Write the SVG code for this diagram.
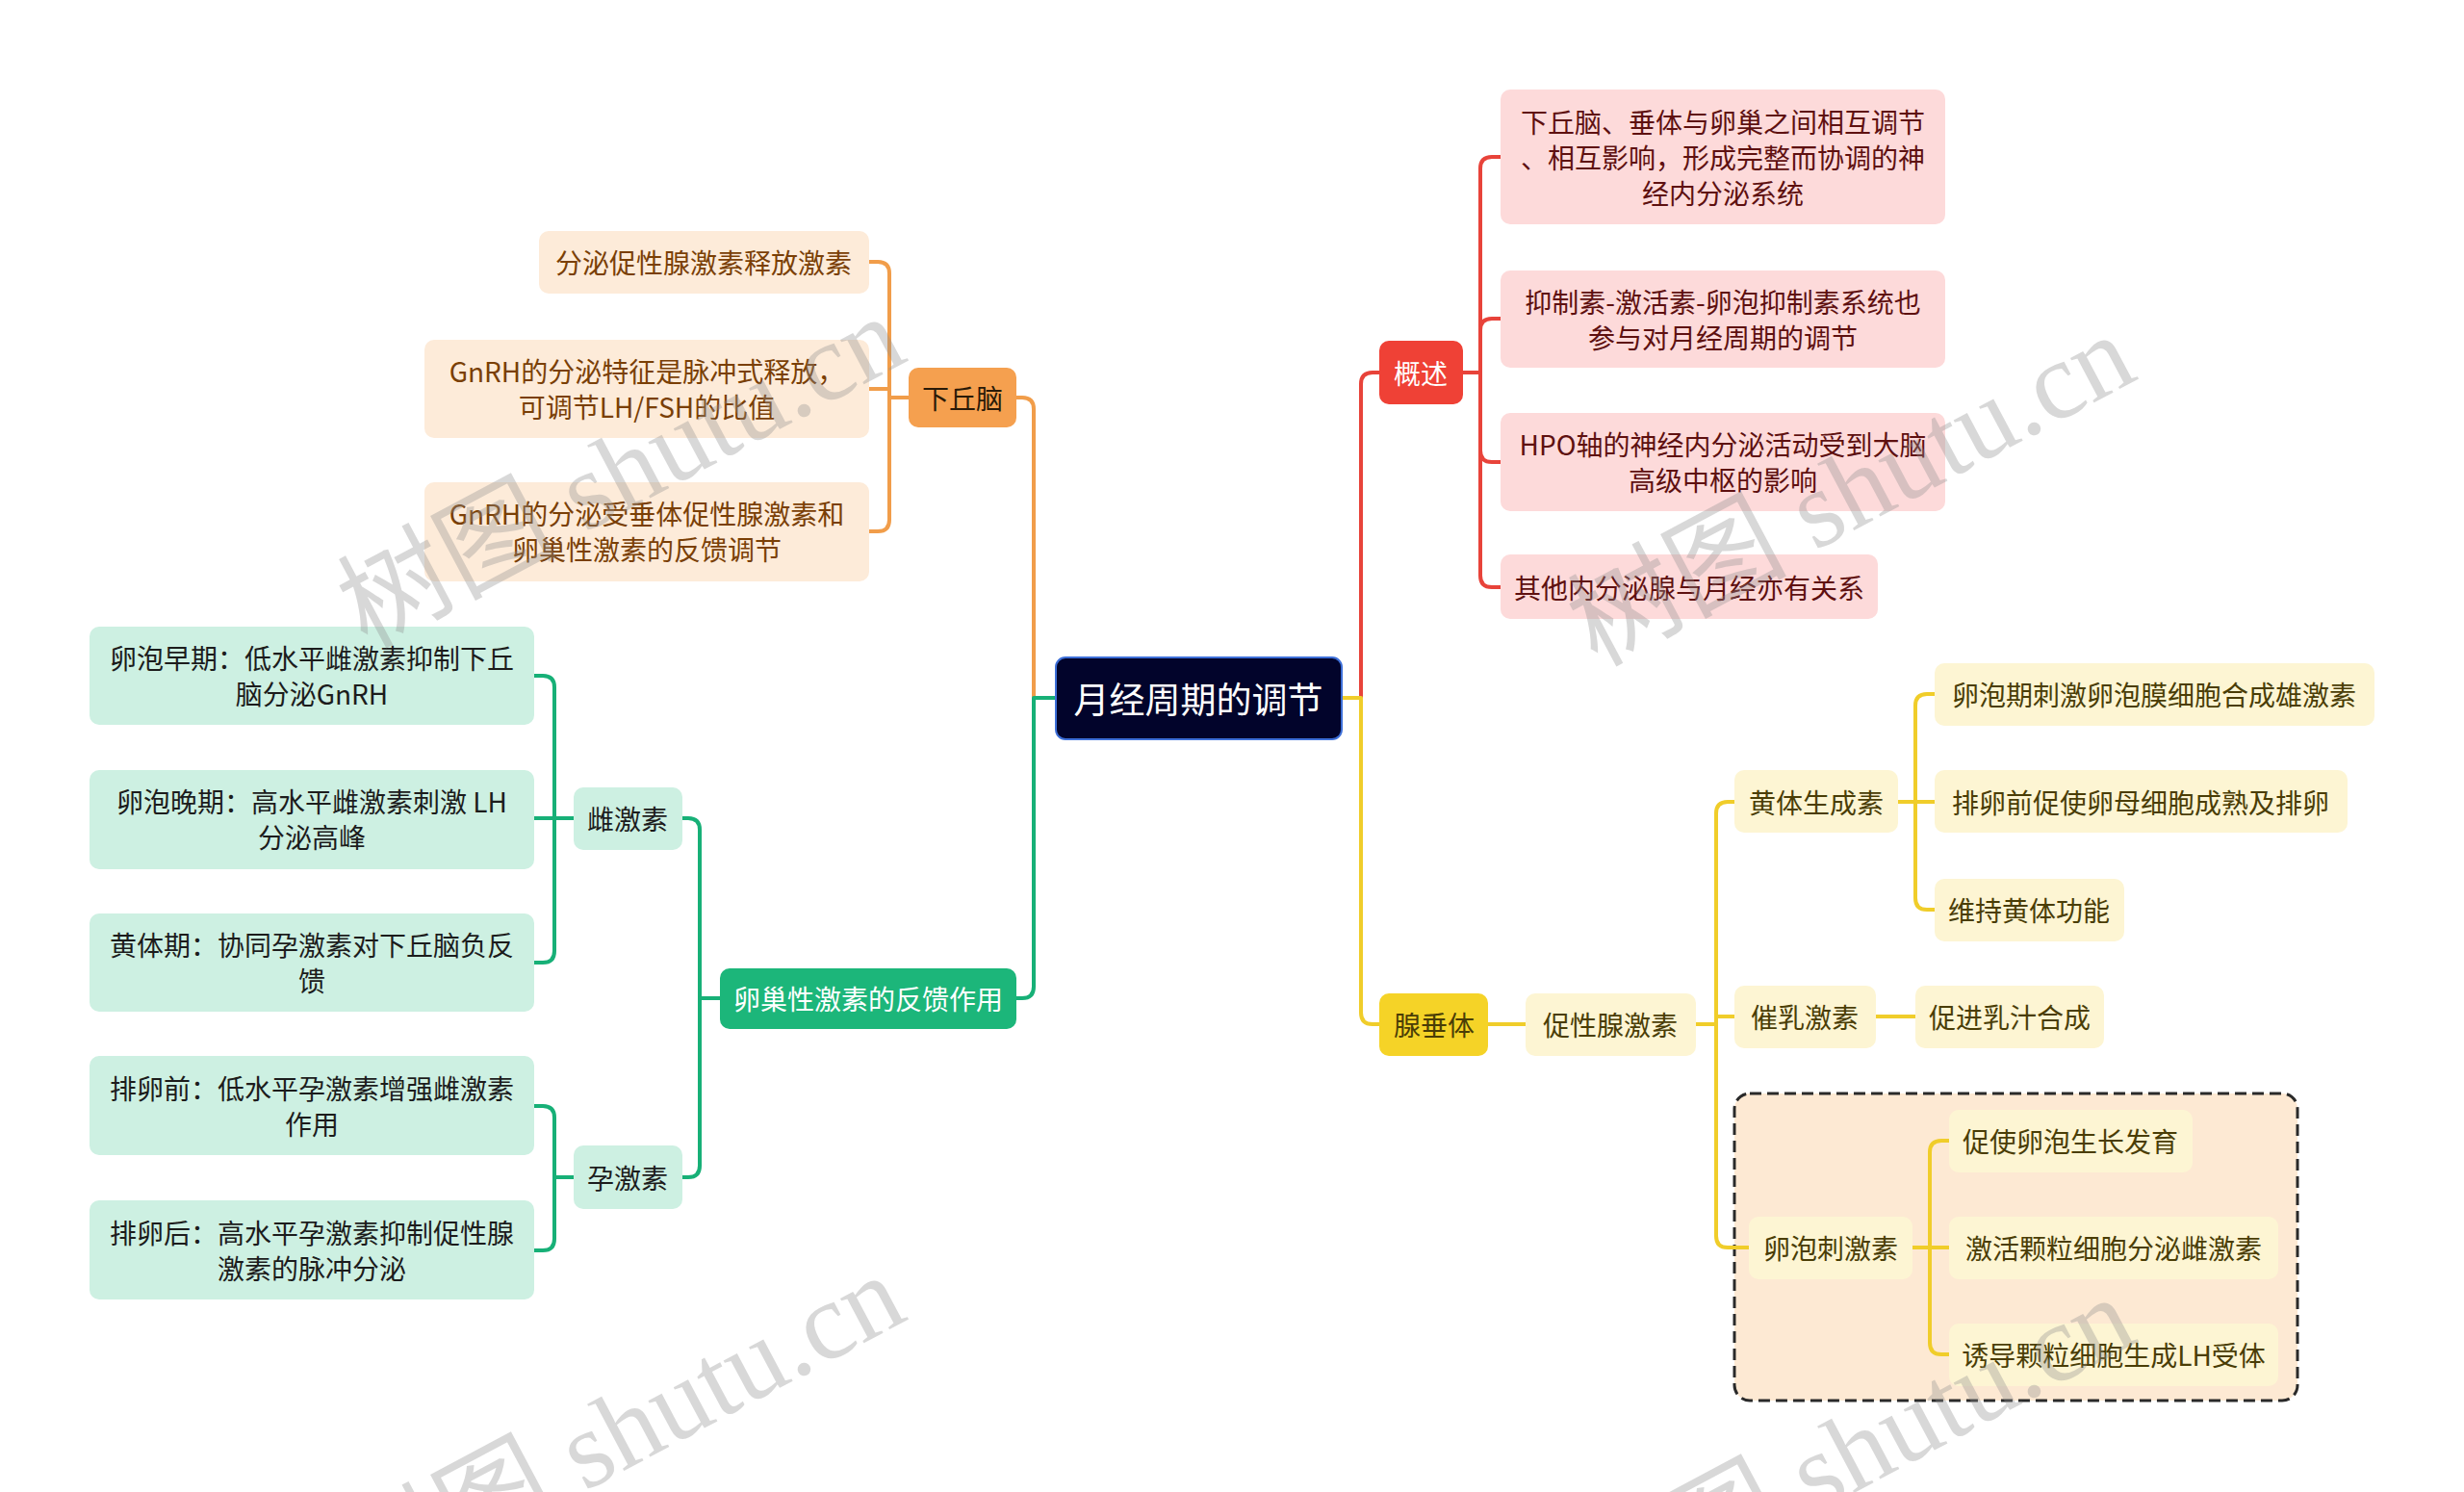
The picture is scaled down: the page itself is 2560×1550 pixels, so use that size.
<svg xmlns="http://www.w3.org/2000/svg" width="2560" height="1550" viewBox="0 0 2560 1550">
<style>
text{font-family:"Noto Sans CJK SC","Liberation Sans",sans-serif;font-size:28px;text-anchor:middle;dominant-baseline:central}
.c{fill:none;stroke-width:4;stroke-linecap:round;stroke-linejoin:round}
.co{stroke:#f19d4a}.cg{stroke:#17b077}.cr{stroke:#e8433a}.cy{stroke:#f0cd2a}
.no{fill:#f5a04f}.nol{fill:#fdebd9}.to{fill:#2a1a08}.tol{fill:#7a3f06}
.ng{fill:#1cb67a}.ngl{fill:#cdf0e2}.tg{fill:#1c1c1c}
.nr{fill:#ef4136}.nrl{fill:#fddada}.trl{fill:#5e1010}
.ny{fill:#f5d327}.nyl{fill:#fdf5d3}.ty{fill:#4a3d06}
.w{fill:#fff}
.wm{font-family:"Liberation Serif","Noto Sans CJK SC",serif;font-size:114px;fill:#8f8f8f;opacity:0.34}
</style>
<rect width="2560" height="1550" fill="#fff"/>
<g id="group-box">
<rect x="1802" y="1136" width="585" height="319" rx="16" fill="#fde9d3" stroke="#2a2a2a" stroke-width="3" stroke-dasharray="12 6"/>
</g>
<g id="connectors">
<path class="c co" d="M1056 413 H1062 Q1074 413 1074 425 V725 H1097"/>
<path class="c cg" d="M1056 1037 H1062 Q1074 1037 1074 1025 V725 H1097"/>
<path class="c co" d="M944 413 H924 V284 Q924 272 912 272 H903"/>
<path class="c co" d="M944 413 H924 V404 H903"/>
<path class="c co" d="M944 413 H924 V540 Q924 552 912 552 H903"/>
<path class="c cg" d="M748 1037 H727 V862 Q727 850 715 850 H709"/>
<path class="c cg" d="M748 1037 H727 V1211 Q727 1223 715 1223 H709"/>
<path class="c cg" d="M596 850 H576 V714 Q576 702 564 702 H555"/>
<path class="c cg" d="M596 850 H555"/>
<path class="c cg" d="M596 850 H576 V988 Q576 1000 564 1000 H555"/>
<path class="c cg" d="M596 1223 H576 V1161 Q576 1149 564 1149 H555"/>
<path class="c cg" d="M596 1223 H576 V1287 Q576 1299 564 1299 H555"/>
<path class="c cr" d="M1394 725 H1414 V399 Q1414 387 1426 387 H1433"/>
<path class="c cy" d="M1394 725 H1414 V1052 Q1414 1064 1426 1064 H1433"/>
<path class="c cr" d="M1520 387 H1538 V175 Q1538 163 1550 163 H1559"/>
<path class="c cr" d="M1520 387 H1538 V343 Q1538 331 1550 331 H1559"/>
<path class="c cr" d="M1520 387 H1538 V468 Q1538 480 1550 480 H1559"/>
<path class="c cr" d="M1520 387 H1538 V598 Q1538 610 1550 610 H1559"/>
<path class="c cy" d="M1546 1064 H1585"/>
<path class="c cy" d="M1762 1064 H1783 V845 Q1783 833 1795 833 H1802"/>
<path class="c cy" d="M1762 1064 H1783 V1056 H1802"/>
<path class="c cy" d="M1762 1064 H1783 V1284 Q1783 1296 1795 1296 H1817"/>
<path class="c cy" d="M1972 833 H1990 V733 Q1990 721 2002 721 H2010"/>
<path class="c cy" d="M1972 833 H2010"/>
<path class="c cy" d="M1972 833 H1990 V933 Q1990 945 2002 945 H2010"/>
<path class="c cy" d="M1949 1056 H1990"/>
<path class="c cy" d="M1987 1296 H2005 V1197 Q2005 1185 2017 1185 H2025"/>
<path class="c cy" d="M1987 1296 H2025"/>
<path class="c cy" d="M1987 1296 H2005 V1395 Q2005 1407 2017 1407 H2025"/>
</g>
<g id="root">
<rect x="1097" y="683" width="297" height="85" rx="10" fill="#02042b" stroke="#3d6fd8" stroke-width="2"/>
<text x="1245" y="725" class="w" style="font-size:37px">月经周期的调节</text>
</g>
<g id="n-xqn">
<rect x="944" y="382" width="112" height="62" rx="10" class="no"/>
<text x="1000" y="413" class="to">下丘脑</text>
</g>
<g id="n-xqn-1">
<rect x="560" y="240" width="343" height="65" rx="10" class="nol"/>
<text x="731" y="272" class="tol">分泌促性腺激素释放激素</text>
</g>
<g id="n-xqn-2">
<rect x="441" y="353" width="462" height="102" rx="10" class="nol"/>
<text class="tol"><tspan x="672" y="385">GnRH的分泌特征是脉冲式释放，</tspan><tspan x="672" y="422">可调节LH/FSH的比值</tspan></text>
</g>
<g id="n-xqn-3">
<rect x="441" y="501" width="462" height="103" rx="10" class="nol"/>
<text class="tol"><tspan x="672" y="533">GnRH的分泌受垂体促性腺激素和</tspan><tspan x="672" y="570">卵巢性激素的反馈调节</tspan></text>
</g>
<g id="n-lc">
<rect x="748" y="1006" width="308" height="63" rx="10" class="ng"/>
<text x="902" y="1037" class="w">卵巢性激素的反馈作用</text>
</g>
<g id="n-cjs">
<rect x="596" y="818" width="113" height="65" rx="10" class="ngl"/>
<text x="652" y="850" class="tg">雌激素</text>
</g>
<g id="n-yjs">
<rect x="596" y="1190" width="113" height="66" rx="10" class="ngl"/>
<text x="652" y="1223" class="tg">孕激素</text>
</g>
<g id="n-cjs-1">
<rect x="93" y="651" width="462" height="102" rx="10" class="ngl"/>
<text class="tg"><tspan x="324" y="683">卵泡早期：低水平雌激素抑制下丘</tspan><tspan x="324" y="720">脑分泌GnRH</tspan></text>
</g>
<g id="n-cjs-2">
<rect x="93" y="800" width="462" height="103" rx="10" class="ngl"/>
<text class="tg"><tspan x="324" y="832">卵泡晚期：高水平雌激素刺激 LH</tspan><tspan x="324" y="869">分泌高峰</tspan></text>
</g>
<g id="n-cjs-3">
<rect x="93" y="949" width="462" height="102" rx="10" class="ngl"/>
<text class="tg"><tspan x="324" y="981">黄体期：协同孕激素对下丘脑负反</tspan><tspan x="324" y="1018">馈</tspan></text>
</g>
<g id="n-yjs-1">
<rect x="93" y="1097" width="462" height="103" rx="10" class="ngl"/>
<text class="tg"><tspan x="324" y="1130">排卵前：低水平孕激素增强雌激素</tspan><tspan x="324" y="1167">作用</tspan></text>
</g>
<g id="n-yjs-2">
<rect x="93" y="1247" width="462" height="103" rx="10" class="ngl"/>
<text class="tg"><tspan x="324" y="1280">排卵后：高水平孕激素抑制促性腺</tspan><tspan x="324" y="1317">激素的脉冲分泌</tspan></text>
</g>
<g id="n-gs">
<rect x="1433" y="354" width="87" height="66" rx="10" class="nr"/>
<text x="1476" y="387" class="w">概述</text>
</g>
<g id="n-gs-1">
<rect x="1559" y="93" width="462" height="140" rx="10" class="nrl"/>
<text class="trl"><tspan x="1790" y="126">下丘脑、垂体与卵巢之间相互调节</tspan><tspan x="1790" y="163">、相互影响，形成完整而协调的神</tspan><tspan x="1790" y="200">经内分泌系统</tspan></text>
</g>
<g id="n-gs-2">
<rect x="1559" y="281" width="462" height="101" rx="10" class="nrl"/>
<text class="trl"><tspan x="1790" y="313">抑制素-激活素-卵泡抑制素系统也</tspan><tspan x="1790" y="350">参与对月经周期的调节</tspan></text>
</g>
<g id="n-gs-3">
<rect x="1559" y="429" width="462" height="102" rx="10" class="nrl"/>
<text class="trl"><tspan x="1790" y="461">HPO轴的神经内分泌活动受到大脑</tspan><tspan x="1790" y="498">高级中枢的影响</tspan></text>
</g>
<g id="n-gs-4">
<rect x="1559" y="576" width="392" height="67" rx="10" class="nrl"/>
<text x="1755" y="610" class="trl">其他内分泌腺与月经亦有关系</text>
</g>
<g id="n-xct">
<rect x="1433" y="1032" width="113" height="65" rx="10" class="ny"/>
<text x="1490" y="1064" class="ty">腺垂体</text>
</g>
<g id="n-cxx">
<rect x="1585" y="1032" width="177" height="65" rx="10" class="nyl"/>
<text x="1673" y="1064" class="ty">促性腺激素</text>
</g>
<g id="n-lh">
<rect x="1802" y="800" width="170" height="65" rx="10" class="nyl"/>
<text x="1887" y="833" class="ty">黄体生成素</text>
</g>
<g id="n-lh-1">
<rect x="2010" y="689" width="457" height="65" rx="10" class="nyl"/>
<text x="2238" y="721" class="ty">卵泡期刺激卵泡膜细胞合成雄激素</text>
</g>
<g id="n-lh-2">
<rect x="2010" y="800" width="429" height="65" rx="10" class="nyl"/>
<text x="2224" y="833" class="ty">排卵前促使卵母细胞成熟及排卵</text>
</g>
<g id="n-lh-3">
<rect x="2010" y="913" width="197" height="65" rx="10" class="nyl"/>
<text x="2108" y="945" class="ty">维持黄体功能</text>
</g>
<g id="n-prl">
<rect x="1802" y="1024" width="147" height="65" rx="10" class="nyl"/>
<text x="1875" y="1056" class="ty">催乳激素</text>
</g>
<g id="n-prl-1">
<rect x="1990" y="1024" width="196" height="65" rx="10" class="nyl"/>
<text x="2088" y="1056" class="ty">促进乳汁合成</text>
</g>
<g id="n-fsh">
<rect x="1817" y="1264" width="170" height="65" rx="10" class="nyl"/>
<text x="1902" y="1296" class="ty">卵泡刺激素</text>
</g>
<g id="n-fsh-1">
<rect x="2025" y="1153" width="253" height="65" rx="10" class="nyl"/>
<text x="2151" y="1185" class="ty">促使卵泡生长发育</text>
</g>
<g id="n-fsh-2">
<rect x="2025" y="1264" width="342" height="65" rx="10" class="nyl"/>
<text x="2196" y="1296" class="ty">激活颗粒细胞分泌雌激素</text>
</g>
<g id="n-fsh-3">
<rect x="2025" y="1375" width="342" height="65" rx="10" class="nyl"/>
<text x="2196" y="1407" class="ty">诱导颗粒细胞生成LH受体</text>
</g>
<g id="watermarks">
<text class="wm" transform="translate(645 490) rotate(-28)">树图 shutu.cn</text>
<text class="wm" transform="translate(1923 509) rotate(-28)">树图 shutu.cn</text>
<text class="wm" transform="translate(645 1486) rotate(-28)">树图 shutu.cn</text>
<text class="wm" transform="translate(1923 1509) rotate(-28)">树图 shutu.cn</text>
</g>
</svg>
